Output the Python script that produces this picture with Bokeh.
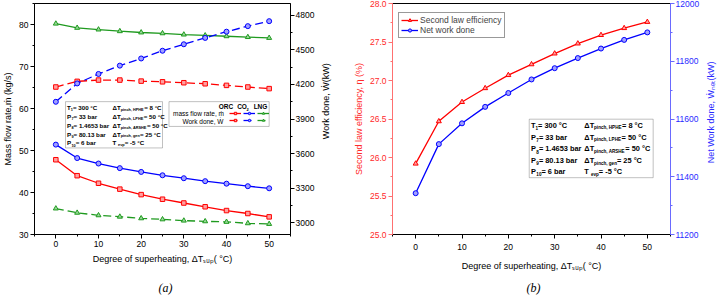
import math
from bokeh.plotting import figure
from bokeh.layouts import row, column
from bokeh.models import (Range1d, LinearAxis, SingleIntervalTicker, Label, Legend, LegendItem,
                          BoxAnnotation, NumeralTickFormatter)
from bokeh.embed import file_html
from bokeh.resources import INLINE

# ---------------- data ----------------
sup_deg = [0, 5, 10, 15, 20, 25, 30, 35, 40, 45, 50]
orc_mass = [47.8, 44.0, 42.2, 40.8, 39.5, 38.4, 37.5, 36.6, 35.7, 35.0, 34.2]
co2_mass = [51.4, 48.2, 46.9, 45.8, 44.9, 44.1, 43.4, 42.7, 42.1, 41.5, 41.0]
lng_mass = [80.2, 79.2, 78.8, 78.4, 78.1, 77.9, 77.6, 77.4, 77.2, 77.0, 76.8]
orc_work = [4177, 4226, 4237, 4237, 4228, 4222, 4214, 4205, 4191, 4177, 4163]
co2_work = [4049, 4208, 4290, 4362, 4424, 4491, 4547, 4602, 4656, 4704, 4747]
lng_work = [3125, 3088, 3066, 3054, 3040, 3031, 3020, 3014, 3009, 2997, 2991]
eff2 = [25.92, 26.47, 26.72, 26.90, 27.07, 27.21, 27.35, 27.48, 27.59, 27.68, 27.76]
net_work = [11343, 11513, 11585, 11642, 11690, 11737, 11776, 11811, 11844, 11874, 11900]

params_left = [("T", "1", "= 300 °C"), ("P", "7", "= 33 bar"), ("P", "8", "= 1.4653 bar"),
               ("P", "9", "= 80.13 bar"), ("P", "10", "= 6 bar")]
params_right = [("ΔT", "pinch, HPHE", "= 8 °C"), ("ΔT", "pinch, LPHE", "= 50 °C"),
                ("ΔT", "pinch, ARSHE", "= 50 °C"), ("ΔT", "pinch, gen", "= 25 °C"),
                (" T", "evp", "= -5 °C")]

FONT = "Liberation Sans"
RED, BLUE, GREEN = "#ff0000", "#0000ff", "#1f9a1f"
RED_F, BLUE_F, GREEN_F = "#ffa0a0", "#a0a0ff", "#98d898"

W_N = {' ': .278, '.': .278, ',': .278, '=': .584, '°': .4, '-': .333, '(': .333, ')': .333,
       'i': .222, 'l': .222, 'r': .333, 'f': .278, 't': .278, 'm': .833, 'w': .722,
       'c': .5, 'k': .5, 's': .5, 'v': .5, 'y': .5, 'Δ': .668, 'T': .611, 'L': .556,
       'W': .944, 'G': .778, 'O': .778}
W_B = {' ': .278, '.': .278, ',': .278, '=': .584, '°': .4, '-': .333,
       'i': .278, 'l': .278, 'r': .389, 't': .333, 'f': .333, 'Δ': .7, 'T': .611,
       'L': .611, 'a': .556, 'c': .556, 'e': .556, 's': .556, 'v': .556}


def text_w(txt, fs, bold):
    tab = W_B if bold else W_N
    tot = 0.0
    for ch in txt:
        if ch in tab:
            tot += tab[ch]
        elif ch.isdigit():
            tot += .556
        elif ch.isupper():
            tot += .72
        else:
            tot += .611 if bold else .556
    return tot * fs


def rich(p, x, y, parts, size, bold=True, color="black", align="left"):
    total = sum(text_w(t, size if k == 'n' else size * 0.62, bold) for t, k in parts)
    off = 0.0 if align == "left" else -total
    for txt, kind in parts:
        fs = size if kind == 'n' else size * 0.62
        yo = 0 if kind == 'n' else -size * 0.38
        p.add_layout(Label(x=x, y=y, x_offset=off, y_offset=yo, text=txt,
                           text_font_size=f"{fs:.2f}px", text_font=FONT,
                           text_font_style="bold" if bold else "normal",
                           text_baseline="middle", text_align="left", text_color=color))
        off += text_w(txt, fs, bold)


def style_axis(ax, color="black", label_color="black", size="8.5px"):
    ax.axis_line_color = color
    ax.major_tick_line_color = color
    ax.minor_tick_line_color = color
    ax.major_tick_in = 0
    ax.major_tick_out = 4
    ax.minor_tick_in = 0
    ax.minor_tick_out = 2
    ax.major_label_text_font = FONT
    ax.major_label_text_font_size = size
    ax.major_label_text_color = label_color
    ax.major_label_standoff = 2
    ax.axis_label_text_font = FONT
    ax.axis_label_text_font_size = "9px"
    ax.axis_label_text_font_style = "normal"
    ax.axis_label_text_color = label_color
    ax.axis_label_standoff = 3


def blank_fig(w, h):
    f = figure(width=w, height=h, x_range=Range1d(0, w), y_range=Range1d(0, h),
               output_backend="svg", toolbar_location=None, x_axis_location=None,
               y_axis_location=None, min_border=0, min_border_left=0, min_border_right=0,
               min_border_top=0, min_border_bottom=0)
    f.outline_line_color = None
    f.xgrid.visible = False
    f.ygrid.visible = False
    f.background_fill_color = "white"
    f.border_fill_color = "white"
    return f


TOP_H = 280          # height of the chart row; a caption strip fills the rest
H = 295

# ================= (a) =================
W1 = 317
p1 = figure(width=W1, height=TOP_H, x_range=Range1d(-5, 55), y_range=Range1d(30, 85),
            output_backend="svg", toolbar_location=None,
            min_border_left=28, min_border_right=W1 - 292, min_border_top=1,
            min_border_bottom=TOP_H - 234)
p1.extra_y_ranges = {"w": Range1d(2900, 4900)}
p1.xgrid.visible = False
p1.ygrid.visible = False
p1.outline_line_color = "black"
p1.background_fill_color = "white"
p1.border_fill_color = "white"

p1.xaxis.ticker = SingleIntervalTicker(interval=10, num_minor_ticks=2)
p1.yaxis.ticker = SingleIntervalTicker(interval=10, num_minor_ticks=2)
p1.xaxis.axis_label = "Degree of superheating, ΔTₛᵤₚ( °C)"
p1.yaxis.axis_label = "Mass flow rate,ṁ (kg/s)"
style_axis(p1.xaxis[0])
style_axis(p1.yaxis[0])
p1.xaxis[0].axis_label_standoff = 4
ax_w = LinearAxis(y_range_name="w", ticker=SingleIntervalTicker(interval=300, num_minor_ticks=2))
style_axis(ax_w)
ax_w.major_label_standoff = 1
p1.add_layout(ax_w, "right")

def series(p, y, color, fill, marker, dash="solid", rng="default", size=5):
    l = p.line(sup_deg, y, line_color=color, line_width=1.3, line_dash=dash, y_range_name=rng)
    s = p.scatter(sup_deg, y, marker=marker, size=size, line_color=color, fill_color=fill,
                  line_width=1, y_range_name=rng)
    return [l, s]

DASH = "8 4"
r_orc_m = series(p1, orc_mass, RED, RED_F, "square", size=4.5)
r_co2_m = series(p1, co2_mass, BLUE, BLUE_F, "circle")
r_lng_m = series(p1, lng_mass, GREEN, GREEN_F, "triangle")
r_orc_w = series(p1, orc_work, RED, RED_F, "square", DASH, "w", size=4.5)
r_co2_w = series(p1, co2_work, BLUE, BLUE_F, "circle", DASH, "w")
r_lng_w = series(p1, lng_work, GREEN, GREEN_F, "triangle", DASH, "w")

# screen -> data helpers for annotations of (a)
def ax1(px):
    return -5 + (px - 28) * 60.0 / 264.0

def ay1(py):
    return 85 - (py - 1) * 55.0 / 233.0

# parameter box (a)
p1.add_layout(BoxAnnotation(left=ax1(60), right=ax1(160), top=ay1(100), bottom=ay1(146.7),
                            fill_color="white", fill_alpha=1, line_color="#333333", line_width=1))
rows_y1 = [106, 115, 124, 132.7, 141.7]
for i, yy in enumerate(rows_y1):
    a, s, b = params_left[i]
    rich(p1, ax1(61.5), ay1(yy), [(a, 'n'), (s, 's'), (b, 'n')], 6.2)
    a, s, b = params_right[i]
    rich(p1, ax1(108.5), ay1(yy), [(a, 'n'), (s, 's'), (b, 'n')], 6.2)

# legend box (a)
p1.add_layout(BoxAnnotation(left=ax1(166.7), right=ax1(270), top=ay1(100), bottom=ay1(125),
                            fill_color="white", fill_alpha=1, line_color="#333333", line_width=1))
rich(p1, ax1(218), ay1(105), [("ORC", 'n')], 6.5)
rich(p1, ax1(237), ay1(105), [("CO", 'n'), ("2", 's')], 6.5)
rich(p1, ax1(254), ay1(105), [("LNG", 'n')], 6.5)
rich(p1, ax1(221.5), ay1(112.3), [("mass flow rate, ṁ", 'n')], 6.5, bold=False, align="right")
rich(p1, ax1(221.5), ay1(120), [("Work done, Ẇ", 'n')], 6.5, bold=False, align="right")

for rends, vy in ((r_orc_m + r_co2_m + r_lng_m, 234 - 115.5), (r_orc_w + r_co2_w + r_lng_w, 234 - 123.2)):
    items = [LegendItem(label=" ", renderers=rends[0:2]),
             LegendItem(label=" ", renderers=rends[2:4]),
             LegendItem(label=" ", renderers=rends[4:6])]
    lg = Legend(items=items, orientation="horizontal", location=(223 - 28, vy),
                padding=0, margin=0, spacing=2, glyph_width=12, glyph_height=6,
                label_width=0, label_height=6, label_standoff=0,
                label_text_font_size="2px", border_line_alpha=0, background_fill_alpha=0)
    p1.add_layout(lg)

# right-axis title of (a), reading upwards like the reference
lab1 = blank_fig(350 - W1, TOP_H)
lab1.add_layout(Label(x=8, y=TOP_H - 117, text="Work done,  Ẇ(kW)", angle=math.pi / 2,
                      text_align="center", text_baseline="middle", text_font=FONT,
                      text_font_size="9px", text_color="black"))

# ================= (b) =================
W2 = 702 - 350
p2 = figure(width=W2, height=TOP_H, x_range=Range1d(-5, 55), y_range=Range1d(25, 28),
            output_backend="svg", toolbar_location=None,
            min_border_left=387 - 350, min_border_right=702 - 671, min_border_top=3,
            min_border_bottom=TOP_H - 240)
p2.extra_y_ranges = {"nw": Range1d(11200, 12000)}
p2.xgrid.visible = False
p2.ygrid.visible = False
p2.outline_line_color = "black"
p2.background_fill_color = "white"
p2.border_fill_color = "white"

p2.xaxis.ticker = SingleIntervalTicker(interval=10, num_minor_ticks=2)
p2.yaxis.ticker = SingleIntervalTicker(interval=0.5, num_minor_ticks=2)
p2.yaxis.formatter = NumeralTickFormatter(format="0.0")
p2.xaxis.axis_label = "Degree of superheating, ΔTₛᵤₚ( °C)"
p2.yaxis.axis_label = "Second law efficiency, η (%)"
style_axis(p2.xaxis[0])
p2.xaxis[0].major_label_standoff = 5
p2.xaxis[0].axis_label_standoff = 8
style_axis(p2.yaxis[0], color="#ff7070", label_color="#ff2a2a")
ax_nw = LinearAxis(y_range_name="nw", ticker=SingleIntervalTicker(interval=200, num_minor_ticks=2))
style_axis(ax_nw, color="#6a6aff", label_color="#2a2aff")
ax_nw.major_label_standoff = 1
p2.add_layout(ax_nw, "right")

r_eff = series(p2, eff2, RED, RED_F, "triangle")
r_net = series(p2, net_work, BLUE, BLUE_F, "circle", rng="nw")

lg2 = Legend(items=[LegendItem(label="Second law efficiency", renderers=r_eff),
                    LegendItem(label="Net work done", renderers=r_net)],
             location=(393 - 387, 196), padding=2, margin=0, spacing=0,
             glyph_width=17, glyph_height=8, label_height=8, label_standoff=2,
             label_text_font=FONT, label_text_font_size="8.5px",
             border_line_color="#333333", border_line_width=1, background_fill_color="white")
p2.add_layout(lg2)

def ax2(px):
    return -5 + (px - 387) * 60.0 / 284.0

def ay2(py):
    return 28 - (py - 3) * 3.0 / 237.0

p2.add_layout(BoxAnnotation(left=ax2(526.7), right=ax2(653.3), top=ay2(121.7), bottom=ay2(181.7),
                            fill_color="white", fill_alpha=1, line_color="#333333", line_width=1))
rows_y2 = [127.7, 140.0, 152.0, 164.0, 175.5]
for i, yy in enumerate(rows_y2):
    a, s, b = params_left[i]
    rich(p2, ax2(528.5), ay2(yy), [(a, 'n'), (s, 's'), (b, 'n')], 7.4)
    a, s, b = params_right[i]
    rich(p2, ax2(583), ay2(yy), [(a, 'n'), (s, 's'), (b, 'n')], 7.4)

lab2 = blank_fig(717 - 702, TOP_H)
lab2.add_layout(Label(x=8, y=TOP_H - 132, text="Net Work done, Ẇₙₑₜ(kW)", angle=math.pi / 2,
                      text_align="center", text_baseline="middle", text_font=FONT,
                      text_font_size="9px", text_color="#2a2aff"))

# ================= captions =================
cap = blank_fig(717, H - TOP_H)
for txt, cx in (("(a)", 165), ("(b)", 533)):
    cap.add_layout(Label(x=cx, y=(H - TOP_H) / 2, text=txt, text_font="Liberation Serif",
                         text_font_style="italic", text_font_size="12px", text_align="center",
                         text_baseline="middle", text_color="black"))

layout = column(row(p1, lab1, p2, lab2), cap)
open("out.html", "w").write(file_html(layout, INLINE))
